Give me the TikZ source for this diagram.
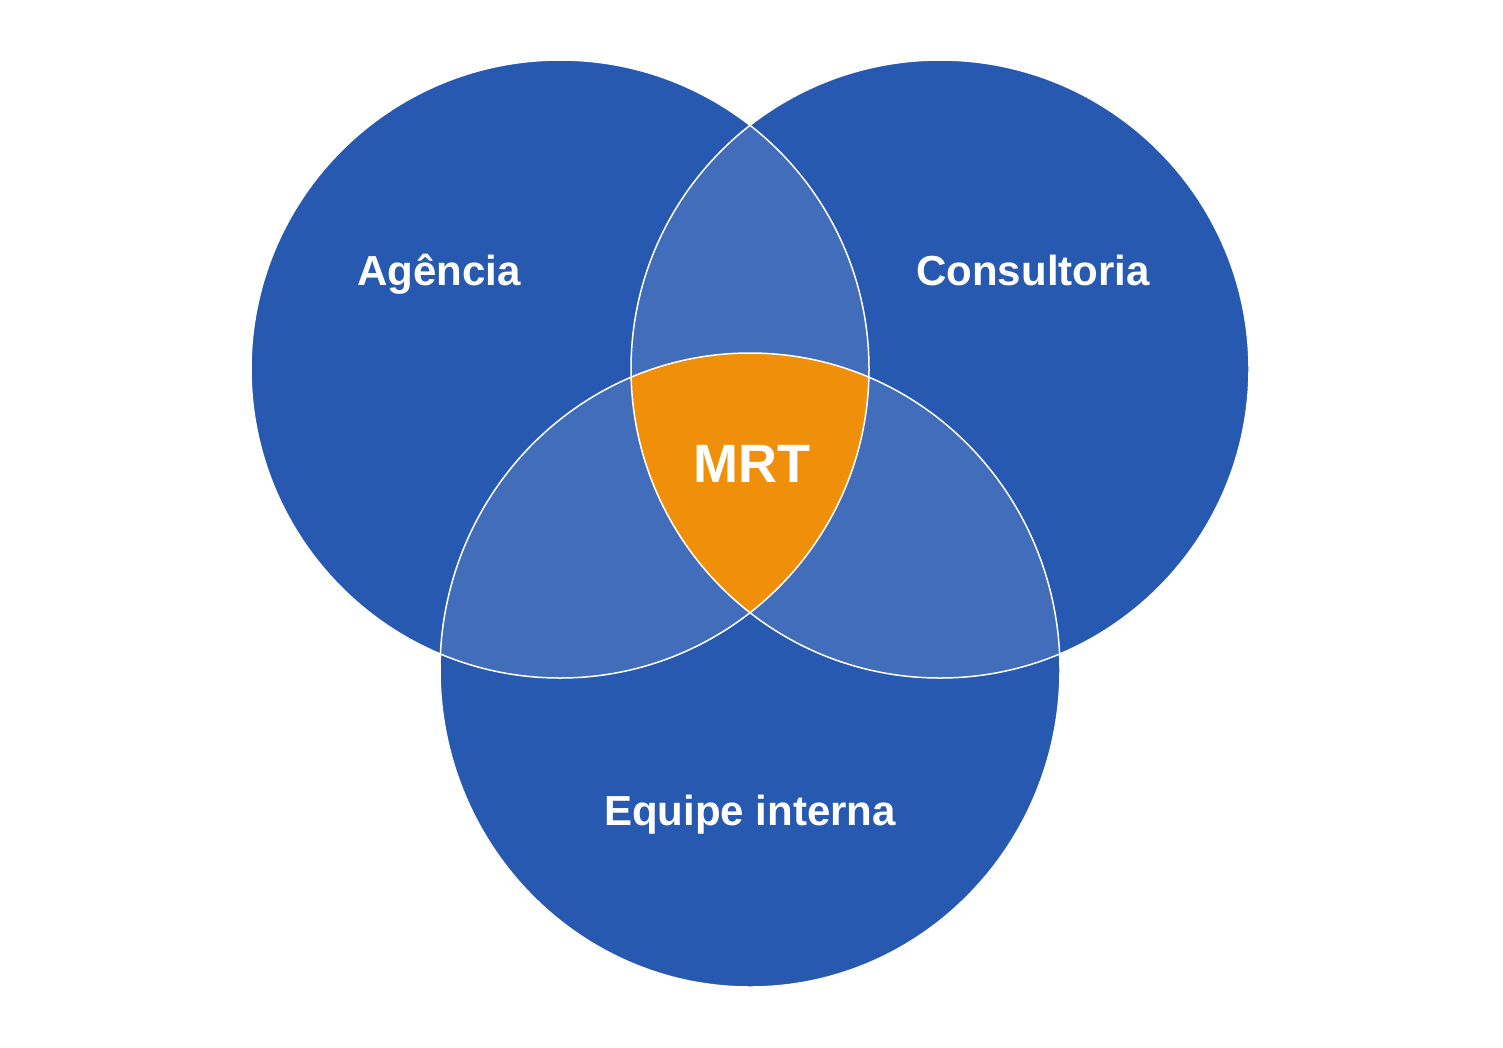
\documentclass[tikz,border=0pt]{standalone}
\usepackage{fontspec}
\setmainfont{Liberation Sans}
\definecolor{vblue}{HTML}{2859B1}
\definecolor{vlight}{HTML}{416DBB}
\definecolor{vorange}{HTML}{F0900A}
\begin{document}
\begin{tikzpicture}[x=1pt,y=-1pt,
  lbl/.style={text=white,anchor=base,inner sep=0pt},
  ring/.style={draw=white,line width=1.5pt}]
\useasboundingbox[fill=white] (0,0) rectangle (1503,1047);
\def\cA{(560,369) circle[radius=309]}
\def\cB{(940,369) circle[radius=309]}
\def\cC{(750,670) ellipse[x radius=310,y radius=317]}
% base fills
\fill[vblue] \cA;
\fill[vblue] \cB;
\fill[vblue] \cC;
% pairwise overlaps
\begin{scope}\clip \cA; \fill[vlight] \cB; \fill[vlight] \cC;\end{scope}
\begin{scope}\clip \cB; \fill[vlight] \cC;\end{scope}
% triple overlap
\begin{scope}\clip \cA; \clip \cB; \fill[vorange] \cC;\end{scope}
% outlines
\draw[ring] \cA;
\draw[ring] \cB;
\draw[ring] \cC;
% labels
\node[lbl,font=\fontsize{42}{48}\selectfont\bfseries] (ag) at (439,285) {Agência};
\node[lbl,font=\fontsize{42}{48}\selectfont\bfseries] (co) at (1033,285) {Consultoria};
\node[lbl,font=\fontsize{54}{60}\selectfont\bfseries] (mrt) at (752,482) {MRT};
\node[lbl,font=\fontsize{42}{48}\selectfont\bfseries] (eq) at (750,825) {Equipe interna};
\end{tikzpicture}
\end{document}
